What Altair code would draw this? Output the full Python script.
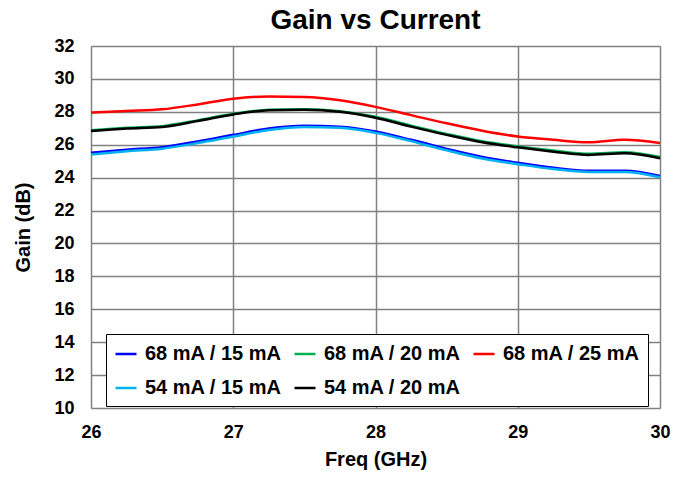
import altair as alt
import pandas as pd

freq = [26.0, 26.25, 26.5, 26.75, 27.0, 27.25, 27.5, 27.75, 28.0, 28.25, 28.5, 28.75, 29.0, 29.25, 29.5, 29.75, 30.0]

g_68_15 = [25.52, 25.70, 25.85, 26.20, 26.60, 26.98, 27.15, 27.10, 26.80, 26.30, 25.75, 25.25, 24.90, 24.60, 24.42, 24.42, 24.10]
g_68_20 = [26.88, 27.03, 27.13, 27.48, 27.88, 28.13, 28.16, 28.04, 27.70, 27.16, 26.66, 26.21, 25.90, 25.65, 25.45, 25.55, 25.25]
g_68_25 = [27.95, 28.05, 28.15, 28.45, 28.80, 28.93, 28.90, 28.70, 28.30, 27.80, 27.30, 26.85, 26.50, 26.30, 26.15, 26.30, 26.10]
g_54_15 = [25.40, 25.60, 25.76, 26.10, 26.50, 26.90, 27.08, 27.03, 26.72, 26.22, 25.66, 25.16, 24.82, 24.52, 24.35, 24.35, 24.02]
g_54_20 = [26.84, 26.99, 27.08, 27.44, 27.84, 28.09, 28.12, 28.00, 27.64, 27.10, 26.60, 26.15, 25.84, 25.58, 25.38, 25.48, 25.18]

series = ["68 mA / 15 mA", "68 mA / 20 mA", "68 mA / 25 mA", "54 mA / 15 mA", "54 mA / 20 mA"]
colors = ["#0000FF", "#00B050", "#FF0000", "#00B0F0", "#000000"]
values = [g_68_15, g_68_20, g_68_25, g_54_15, g_54_20]

rows = []
for i, (name, vals) in enumerate(zip(series, values)):
    for f, v in zip(freq, vals):
        rows.append({"Freq": f, "Gain": v, "Series": name, "order": i})
df = pd.DataFrame(rows)

FONT = "Liberation Sans"

axis_common = dict(ticks=False, labelFontSize=18, titleFontSize=20, labelFont=FONT, titleFont=FONT,
                   labelFontWeight="bold", titleFontWeight="bold", labelColor="#000000",
                   titleColor="#000000", gridColor="#808080", gridWidth=1.5, gridOpacity=1,
                   domain=False, labelFlush=False, format="d")

chart = alt.Chart(df).mark_line(strokeWidth=2.5, interpolate="monotone").encode(
    x=alt.X("Freq:Q", scale=alt.Scale(domain=[26, 30], nice=False),
            axis=alt.Axis(title="Freq (GHz)", values=[26, 27, 28, 29, 30],
                          labelPadding=15, titlePadding=8, **axis_common)),
    y=alt.Y("Gain:Q", scale=alt.Scale(domain=[10, 32], nice=False),
            axis=alt.Axis(title="Gain (dB)", values=list(range(10, 33, 2)),
                          labelPadding=17, titlePadding=20, **axis_common)),
    color=alt.Color("Series:N", scale=alt.Scale(domain=series, range=colors),
                    legend=alt.Legend(title=None, orient="none", legendX=15, legendY=288,
                                      columns=3, direction="horizontal",
                                      symbolType="stroke", symbolSize=441, symbolStrokeWidth=2.5,
                                      labelFontSize=20, labelFontWeight="bold", labelFont=FONT,
                                      labelColor="#000000",
                                      labelOffset=7, columnPadding=7, rowPadding=12,
                                      padding=8, strokeColor="#000000", fillColor="#FFFFFF",
                                      labelLimit=300)),
    order=alt.Order("order:Q"),
    detail="Series:N",
).properties(
    width=569, height=362,
    title=alt.TitleParams("Gain vs Current", fontSize=28, font=FONT, fontWeight="bold",
                          color="#000000", anchor="middle", offset=2),
    autosize="none",
    padding={"left": 83, "top": 38, "right": 22, "bottom": 64},
).configure_view(
    stroke="#000000", strokeWidth=2,
).configure(background="#FFFFFF")

chart.save("out.html", embed_options={"renderer": "svg", "actions": False})
